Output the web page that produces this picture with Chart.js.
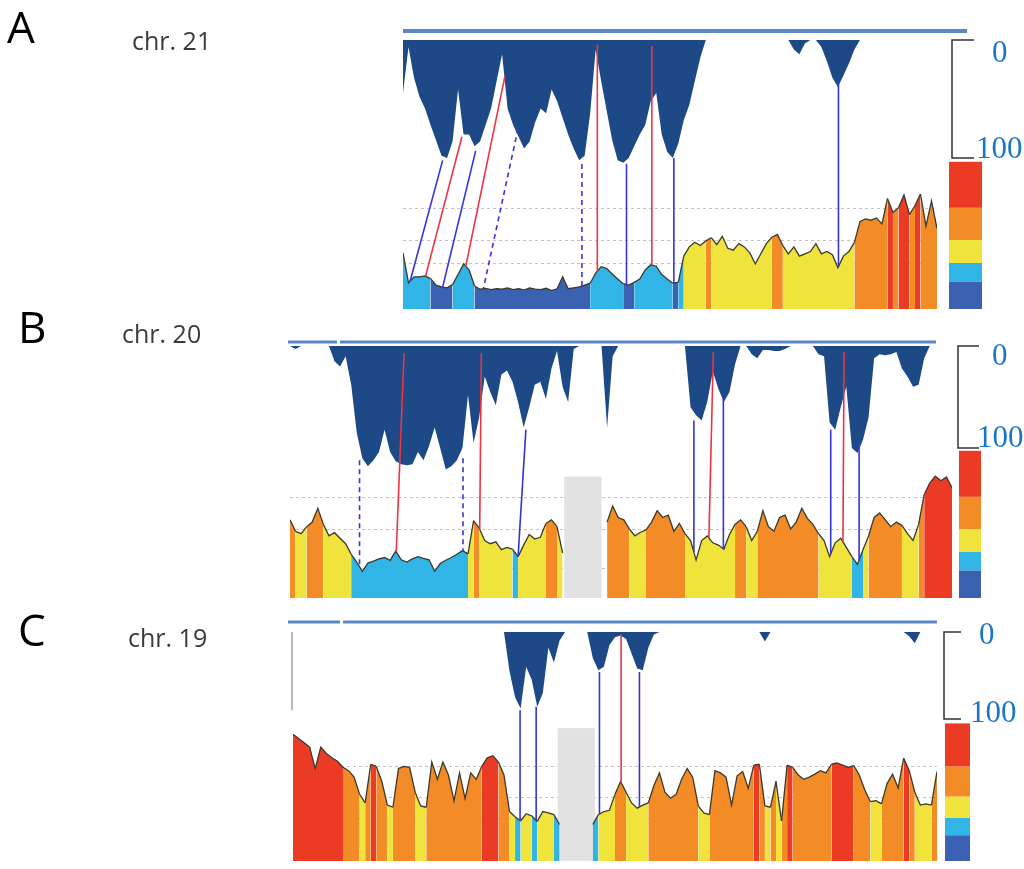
<!DOCTYPE html>
<html>
<head>
<meta charset="utf-8">
<title>chr. 21 / chr. 20 / chr. 19</title>
<script src="https://cdn.jsdelivr.net/npm/chart.js@4/dist/chart.umd.min.js"></script>
<style>
  html, body { margin: 0; padding: 0; background: #fff; }
  #page { position: relative; width: 1024px; height: 869px; overflow: hidden; }
  canvas { position: absolute; left: 0; top: 0; width: 1024px; height: 869px; }
  .letter { position: absolute; font: 44px/44px "Open Sans", sans-serif; color: #000; }
  .chr { position: absolute; font: 25px/25px "Open Sans", sans-serif; color: #3a3a3a; white-space: nowrap; }
  .scale { position: absolute; font: 31px/31px "Liberation Serif", serif; color: #1a76c8; }
</style>
</head>
<body>
<div id="page">
  <canvas id="chr21" width="1024" height="869"></canvas>
  <canvas id="chr20" width="1024" height="869"></canvas>
  <canvas id="chr19" width="1024" height="869"></canvas>

  <div class="letter" style="left:7px;top:4px">A</div>
  <div class="chr" style="left:132px;top:28px">chr. 21</div>
  <div class="scale" style="left:992px;top:36px">0</div>
  <div class="scale" style="left:976px;top:132px">100</div>

  <div class="letter" style="left:18px;top:304px">B</div>
  <div class="chr" style="left:122px;top:321px">chr. 20</div>
  <div class="scale" style="left:992px;top:339px">0</div>
  <div class="scale" style="left:977px;top:421px">100</div>

  <div class="letter" style="left:18px;top:607px">C</div>
  <div class="chr" style="left:128px;top:625px">chr. 19</div>
  <div class="scale" style="left:979px;top:618px">0</div>
  <div class="scale" style="left:970px;top:696px">100</div>
</div>
<script>
// isochore families: GC% class limits and their colours
const isoBreaks = [31, 37, 41, 46, 53, 63];
const isoColors = ['#3b62b2', '#31b4e6', '#f0e33c', '#f38b26', '#eb3b25'];

// chr. 21 — GC profile (bottom) and top profile (depth 0..100), one value per bin
const chr21Gc = [
  43.2, 36.7, 38, 38, 38.2, 37.6, 36.2, 35.8, 35.6, 36.3,
  38.5, 40.8, 39.5, 36, 35.3, 35.5, 35.2, 35.4, 35.3, 35.6,
  35.2, 35.4, 35.1, 35.6, 35.3, 35.2, 35.5, 35.0, 35.4, 38,
  35.4, 35.6, 35.8, 36.2, 36.6, 38.8, 40.2, 39.8, 38.6, 37.5,
  36.5, 36.2, 36.8, 37.5, 39.5, 40.6, 40.3, 38.5, 37.5, 36.6,
  36.8, 42.5, 44.5, 45.5, 44.8, 45.8, 46.5, 45, 46.8, 44.2,
  43.8, 45.2, 44.5, 43.2, 40.8, 43, 45.2, 46.6, 47.2, 44.8,
  43, 44.5, 42.5, 43, 43.5, 45.2, 43, 43.5, 42.8, 40,
  42.5, 43.5, 45.5, 50, 50.6, 50.3, 50.8, 49.5, 55, 52,
  53, 55.8, 51.5, 53.5, 56, 49, 54.5, 48.5
];
const chr21Depth = [
  45, 6, 32, 48, 58, 72, 85, 98, 100, 86,
  42, 80, 80, 90, 86, 72, 58, 35, 12, 58,
  72, 82, 92, 86, 70, 58, 62, 42, 52, 66,
  80, 92, 102, 98, 62, 8, 35, 60, 85, 102,
  104, 100, 90, 80, 72, 52, 45, 80, 95, 100,
  88, 68, 55, 35, 15, 0, 0, 0, 0, 0,
  0, 0, 0, 0, 0, 0, 0, 0, 0, 0,
  0, 8, 12, 3, 0, 0, 6, 18, 32, 40,
  30, 20, 8, 0, 0, 0, 0, 0, 0, 0,
  0, 0, 0, 0, 0, 0, 0, 0
];
const chr21LinkTop = [7.2, 10.7, 13.2, 18.5, 20.9, 32.5, 35.3, 40.6, 45.2, 49.2, 79.1];
const chr21LinkBottom = [1.3, 4.1, 7.2, 11.4, 14.6, 32.5, 35.3, 40.6, 45.2, 49.2, 79.1];
const chr21LinkDepth = [102, 82, 94, 31, 75, 105, 4, 105, 5, 100, 36];
const chr21LinkKind = ['blue', 'red', 'blue', 'red', 'dash', 'dash', 'red', 'blue', 'red', 'blue', 'blue'];

// chr. 20
const chr20Gc = [
  48, 45.5, 45, 46.5, 47.5, 50.5, 47, 44.5, 45.2, 44,
  42.8, 40.5, 38.8, 36.8, 38.6, 39, 39.5, 39.8, 39.2, 41.2,
  39.3, 38.8, 39.5, 40, 39.6, 39.3, 36.8, 38.5, 39.2, 39.8,
  40.5, 41.3, 40.6, 47.8, 46.2, 43.5, 42.8, 43.2, 41.5, 42,
  41.6, 40, 42.5, 44.8, 43.8, 44.2, 47.2, 48, 46.5, 40.8,
  null, null, null, null, null, null, null, 47.5, 51, 48.5,
  48, 46, 44.5, 45.3, 45.8, 47.5, 50, 48.5, 49, 45.5,
  47.2, 45, 43.5, 39.3, 43.5, 44.5, 43, 42.5, 41.6, 44.8,
  47, 48, 46.5, 43.5, 45.5, 50, 46.5, 45.5, 48.5, 49,
  46, 47.5, 50.5, 48.3, 47, 45, 43.5, 40, 43, 44,
  42, 40, 38.3, 41.5, 44.5, 48.5, 49.5, 48, 46.5, 47.5,
  46.8, 45, 43.5, 47, 53.5, 56, 57.5, 56.5, 57.3, 55
];
const chr20Depth = [
  0, 3, 0, 0, 0, 0, 0, 0, 15, 20,
  10, 38, 85, 110, 118, 112, 104, 82, 104, 113,
  116, 117, 116, 104, 112, 98, 80, 100, 121, 118,
  112, 100, 48, 95, 70, 30, 45, 58, 28, 24,
  35, 55, 80, 60, 38, 35, 52, 22, 5, 40,
  55, 3, 0, 0, 0, 0, 0, 80, 10, 0,
  0, 0, 0, 0, 0, 0, 0, 0, 0, 0,
  0, 0, 60, 68, 73, 55, 25, 42, 55, 45,
  18, 0, 0, 8, 12, 4, 4, 5, 5, 3,
  0, 0, 0, 0, 0, 8, 10, 75, 82, 60,
  40, 100, 105, 92, 70, 12, 8, 9, 8, 6,
  22, 30, 40, 38, 12, 0, 0, 0, 0, 0
];
const chr20Centromere = [49.3, 56.0, 57.4];
const chr20LinkTop = [12.5, 20.5, 31.1, 34.4, 42.4, 72.6, 76.1, 77.9, 97.2, 99.6, 102.3];
const chr20LinkBottom = [12.5, 19.1, 31.1, 34.1, 41.0, 72.6, 75.3, 77.9, 97.2, 99.4, 102.3];
const chr20LinkDepth = [112, 7, 110, 7, 82, 73, 6, 50, 82, 6, 95];
const chr20LinkKind = ['dash', 'red', 'dash', 'red', 'blue', 'blue', 'red', 'blue', 'blue', 'red', 'blue'];

// chr. 19
const chr19Gc = [
  60.5, 59.5, 58.5, 57.5, 52.5, 57.5, 56, 55, 54.2, 52.8,
  52, 50.5, 46.5, 44.5, 53.5, 53, 49.5, 44, 43.5, 52.5,
  53, 52.8, 47, 43.8, 43.5, 54, 50, 54, 51, 45,
  51.5, 45.5, 51.5, 50, 53, 55, 55.5, 54, 51, 42.5,
  41.3, 40.3, 42, 41.5, 40.2, 42.5, 42.2, 41.8, 39.5, null,
  null, null, null, null, 39.5, 41.8, 42.5, 42.8, 46.5, 49.5,
  47, 44.5, 43.3, 44, 44.5, 48.5, 51.5, 47, 45.6, 46.5,
  50, 52.5, 50.5, 43.8, 42.2, 41.8, 52, 51.5, 50.5, 44,
  50.8, 51.8, 47.9, 53.3, 53.5, 43.8, 43.5, 49.5, 40.3, 53.3,
  52.8, 51, 50, 50.5, 51.2, 52, 51.5, 53.5, 53.8, 53.3,
  52.8, 53.2, 51, 47.5, 44.8, 45, 44.3, 49, 51.2, 48,
  54.9, 52, 47, 44, 44.3, 44, 51.8
];
const chr19Depth = [
  0, 0, 0, 0, 0, 0, 0, 0, 0, 0,
  0, 0, 0, 0, 0, 0, 0, 0, 0, 0,
  0, 0, 0, 0, 0, 0, 0, 0, 0, 0,
  0, 0, 0, 0, 0, 0, 0, 0, 0, 45,
  75, 88, 40, 55, 86, 70, 18, 35, 10, 0,
  0, 0, 0, 0, 30, 44, 40, 15, 6, 4,
  8, 25, 42, 44, 18, 3, 0, 0, 0, 0,
  0, 0, 0, 0, 0, 0, 0, 0, 0, 0,
  0, 0, 0, 0, 0, 11, 0, 0, 0, 0,
  0, 0, 0, 0, 0, 0, 0, 0, 0, 0,
  0, 0, 0, 0, 0, 0, 0, 0, 0, 0,
  0, 5, 13, 0, 0, 0, 0
];
const chr19Centromere = [47.7, 54.4, 61.9];
const chr19LinkTop = [40.9, 43.8, 55.2, 59.1, 62.4];
const chr19LinkBottom = [40.9, 43.8, 55.2, 59.1, 62.4];
const chr19LinkDepth = [90, 86, 46, 3, 46];
const chr19LinkKind = ['blue', 'blue', 'blue', 'red', 'blue'];

// page placement of each panel (pixels), not data
const panelLayout = {
  chr21: { area: [403, 34, 937, 309], gcPx: 4.6, depth0: 40, depthPx: 1.18, guides: [41, 46, 53],
           band: { y: 31, x0: 403, x1: 967, w: 4, gaps: [] }, legend: [949, 982], bracket: [952, 974] },
  chr20: { area: [290, 345, 952, 598], gcPx: 4.6, depth0: 346, depthPx: 1.02, guides: [37.5, 46, 53],
           band: { y: 342, x0: 288, x1: 936, w: 3, gaps: [[337, 340]] }, legend: [959, 981], bracket: [958, 979] },
  chr19: { area: [293, 628, 937, 861], gcPx: 4.3, depth0: 632, depthPx: 0.87, guides: [41, 46, 53],
           band: { y: 622, x0: 288, x1: 937, w: 3, gaps: [[340, 343]] }, legend: [945, 970], bracket: [944, 961],
           leftRule: true }
};

const linkStyle = {
  blue: ['#3434dc', []],
  red: ['#ee3342', []],
  dash: ['#3434dc', [5, 4]]
};

function isoColor(v) {
  for (let k = isoColors.length - 1; k >= 0; k--) {
    if (v >= isoBreaks[k]) return isoColors[k];
  }
  return isoColors[0];
}

function gcAt(gc, pos) {
  const i0 = Math.floor(pos), i1 = Math.min(i0 + 1, gc.length - 1);
  if (gc[i0] == null || gc[i1] == null) return gc[Math.round(pos)];
  return gc[i0] + (gc[i1] - gc[i0]) * (pos - i0);
}

function decor(gc, links, centromere, cfg) {
  return {
    id: 'decor',
    beforeDatasetsDraw(chart) {
      const { ctx, chartArea: a, scales: { x, y } } = chart;
      ctx.save();
      ctx.strokeStyle = '#c4c4c4';
      ctx.lineWidth = 1;
      ctx.setLineDash([3, 3]);
      cfg.guides.forEach(g => {
        const py = Math.round(y.getPixelForValue(g)) + 0.5;
        ctx.beginPath();
        ctx.moveTo(a.left, py);
        ctx.lineTo(a.right, py);
        ctx.stroke();
      });
      if (centromere) {
        const x0 = x.getPixelForValue(centromere[0]);
        const x1 = x.getPixelForValue(centromere[1]);
        const y0 = y.getPixelForValue(centromere[2]);
        ctx.fillStyle = '#e2e2e2';
        ctx.fillRect(x0, y0, x1 - x0, a.bottom - y0);
      }
      ctx.restore();
    },
    afterDatasetsDraw(chart) {
      const { ctx, scales: { x, y, yt } } = chart;
      ctx.save();
      ctx.lineWidth = 1.6;
      links.top.forEach((xt, i) => {
        const [color, dash] = linkStyle[links.kind[i]];
        ctx.strokeStyle = color;
        ctx.setLineDash(dash);
        ctx.beginPath();
        ctx.moveTo(x.getPixelForValue(xt), yt.getPixelForValue(links.depth[i]));
        ctx.lineTo(x.getPixelForValue(links.bottom[i]), y.getPixelForValue(gcAt(gc, links.bottom[i])));
        ctx.stroke();
      });
      ctx.restore();
    },
    afterDraw(chart) {
      const { ctx, chartArea: a, scales: { y, yt } } = chart;
      ctx.save();
      // chromosome bar
      const band = cfg.band;
      ctx.strokeStyle = '#5a88c6';
      ctx.lineWidth = band.w;
      let from = band.x0;
      band.gaps.concat([[band.x1, band.x1]]).forEach(([g0, g1]) => {
        ctx.beginPath();
        ctx.moveTo(from, band.y);
        ctx.lineTo(g0, band.y);
        ctx.stroke();
        from = g1;
      });
      // 0–100 bracket of the top profile
      const [b0, b1] = cfg.bracket;
      ctx.strokeStyle = '#333';
      ctx.lineWidth = 1.5;
      ctx.beginPath();
      ctx.moveTo(b1, yt.getPixelForValue(0));
      ctx.lineTo(b0, yt.getPixelForValue(0));
      ctx.lineTo(b0, yt.getPixelForValue(100));
      ctx.lineTo(b1, yt.getPixelForValue(100));
      ctx.stroke();
      // isochore colour key
      const [l0, l1] = cfg.legend;
      isoColors.forEach((c, k) => {
        const top = y.getPixelForValue(isoBreaks[k + 1]);
        const bot = y.getPixelForValue(isoBreaks[k]);
        ctx.fillStyle = c;
        ctx.fillRect(l0, top, l1 - l0, bot - top);
      });
      if (cfg.leftRule) {
        ctx.strokeStyle = '#a0a0a0';
        ctx.lineWidth = 1.5;
        ctx.beginPath();
        ctx.moveTo(a.left - 1, yt.getPixelForValue(0));
        ctx.lineTo(a.left - 1, yt.getPixelForValue(90));
        ctx.stroke();
      }
      ctx.restore();
    }
  };
}

function drawPanel(id, gc, depth, links, centromere) {
  const cfg = panelLayout[id];
  const n = gc.length;
  const [left, top, right, bottom] = cfg.area;
  const base = isoBreaks[0];
  const toPts = arr => arr.map((v, i) => ({ x: i, y: v }));

  return new Chart(document.getElementById(id), {
    type: 'line',
    data: {
      datasets: [
        {
          // GC profile, each stripe coloured by its isochore family
          data: toPts(gc),
          yAxisID: 'y',
          order: 0,
          borderColor: '#3b3a2c',
          borderWidth: 1.3,
          pointRadius: 0,
          tension: 0,
          fill: 'start',
          backgroundColor: isoColors[2],
          segment: {
            backgroundColor: s => isoColor((gc[s.p0DataIndex] + gc[s.p1DataIndex]) / 2)
          }
        },
        {
          // top profile hanging from the chromosome bar
          data: toPts(depth),
          yAxisID: 'yt',
          order: 1,
          borderColor: 'rgba(0,0,0,0)',
          borderWidth: 0,
          pointRadius: 0,
          tension: 0,
          fill: { value: 0 },
          backgroundColor: '#1d4a87'
        }
      ]
    },
    options: {
      responsive: false,
      animation: false,
      events: [],
      layout: { padding: { left: left, top: top, right: 1024 - right, bottom: 869 - bottom } },
      plugins: { legend: { display: false }, tooltip: { enabled: false } },
      scales: {
        x: { type: 'linear', min: 0, max: n - 1, display: false },
        y: { type: 'linear', min: base, max: base + (bottom - top) / cfg.gcPx, display: false },
        yt: {
          type: 'linear', reverse: true, display: false,
          min: -(cfg.depth0 - top) / cfg.depthPx,
          max: (bottom - cfg.depth0) / cfg.depthPx
        }
      }
    },
    plugins: [decor(gc, links, centromere, cfg)]
  });
}

drawPanel('chr21', chr21Gc, chr21Depth,
  { top: chr21LinkTop, bottom: chr21LinkBottom, depth: chr21LinkDepth, kind: chr21LinkKind }, null);
drawPanel('chr20', chr20Gc, chr20Depth,
  { top: chr20LinkTop, bottom: chr20LinkBottom, depth: chr20LinkDepth, kind: chr20LinkKind }, chr20Centromere);
drawPanel('chr19', chr19Gc, chr19Depth,
  { top: chr19LinkTop, bottom: chr19LinkBottom, depth: chr19LinkDepth, kind: chr19LinkKind }, chr19Centromere);
</script>
</body>
</html>
